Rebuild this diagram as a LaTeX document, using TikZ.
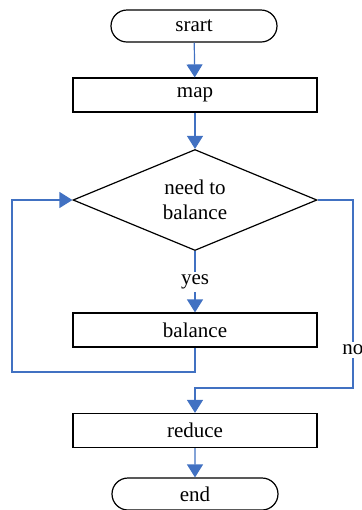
\documentclass[tikz,border=0pt]{standalone}
\usepackage{fontspec}
\setmainfont{Liberation Serif}
\usetikzlibrary{arrows.meta,shapes.geometric,shapes.misc}

\definecolor{flowblue}{RGB}{65,113,194}

\tikzset{
  terminal/.style={draw, rounded rectangle, minimum width=83pt, minimum height=16pt, inner sep=0pt, line width=0.6pt},
  process/.style={draw, rectangle, minimum width=122pt, minimum height=17pt, inner sep=0pt, line width=0.6pt},
  decision/.style={draw, diamond, aspect=2.4, minimum width=122pt, minimum height=50.5pt, inner sep=0pt, align=center, line width=0.6pt},
  flow/.style={draw=flowblue, line width=0.6pt, -{Triangle[width=8pt,length=6.5pt]}},
  flowlabel/.style={fill=white, inner sep=1.5pt}
}

\begin{document}
\begin{tikzpicture}[x=0.5pt, y=-0.5pt, font=\fontsize{10.5}{12.5}\selectfont]
\useasboundingbox (0,0) rectangle (362,510);

% boxes, top to bottom
\node[terminal] (start)  at (194,26)    {srart};
\node[process]  (map)    at (195,95)    {map};
\node[decision] (need)   at (195,200)   {need to\\balance};
\node[process]  (bal)    at (195,330)   {balance};
\node[process]  (reduce) at (195,430.5) {reduce};
\node[terminal] (end)    at (195,494)   {end};

% corners of the two side loops
\coordinate (backleft) at (12,372);
\coordinate (noright)  at (353,388);

\draw[flow] (start) -- (map);
\draw[flow] (map) -- (need);
\draw[flow] (need.south) -- (bal.north) node[flowlabel, midway] (yes) {yes};
\draw[flow] (bal.south) |- (backleft) |- (need.west); % back to the test
\draw[flow] (need.east) -| (noright) -| (reduce.north);
\node[flowlabel] (no) at (353,350) {no};
\draw[flow] (reduce) -- (end);
\end{tikzpicture}
\end{document}
